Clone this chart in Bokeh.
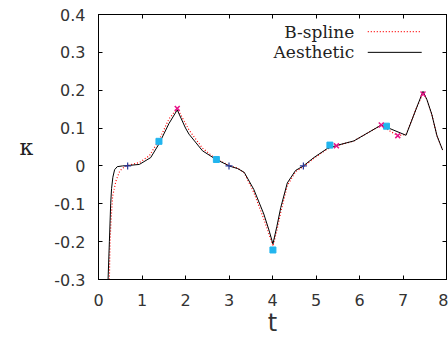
from bokeh.plotting import figure
from bokeh.models import Range1d, LinearAxis, FixedTicker, Label
from bokeh.embed import file_html
from bokeh.resources import INLINE

# ---- data ----
aes_t = [0.22, 0.25, 0.28, 0.30, 0.33, 0.37, 0.43, 0.55, 0.67, 0.94, 1.20, 1.39, 1.62, 1.81,
         2.00, 2.08, 2.39, 2.69, 2.92, 3.00, 3.20, 3.35, 3.57, 3.80, 3.92, 4.01, 4.10, 4.19,
         4.34, 4.53, 4.71, 4.95, 5.26, 5.47, 5.87, 6.20, 6.50, 7.07, 7.30, 7.46, 7.55, 7.66,
         7.78, 7.91]
aes_k = [-0.30, -0.20, -0.10, -0.06, -0.03, -0.01, -0.002, 0.000, 0.001, 0.004, 0.022, 0.058,
         0.112, 0.148, 0.100, 0.084, 0.040, 0.018, 0.005, 0.000, -0.007, -0.017, -0.062, -0.127,
         -0.170, -0.206, -0.160, -0.110, -0.045, -0.012, 0.000, 0.022, 0.046, 0.054, 0.066,
         0.088, 0.108, 0.081, 0.150, 0.197, 0.175, 0.137, 0.080, 0.042]

bs_t = [0.25, 0.265, 0.29, 0.325, 0.40, 0.49, 0.59, 0.70, 0.94, 1.17, 1.39, 1.62, 1.81, 2.00,
        2.08, 2.39, 2.69, 2.92, 3.00, 3.20, 3.35, 3.57, 3.80, 3.92, 4.01, 4.10, 4.19, 4.34,
        4.53, 4.71, 4.95, 5.26, 5.47, 5.87, 6.20, 6.50, 6.70, 6.88, 7.07, 7.30, 7.46, 7.55,
        7.66, 7.78, 7.91]
bs_k = [-0.30, -0.20, -0.14, -0.08, -0.04, -0.013, -0.003, 0.002, 0.009, 0.027, 0.068, 0.124,
        0.152, 0.112, 0.095, 0.047, 0.019, 0.006, 0.001, -0.006, -0.018, -0.070, -0.140,
        -0.180, -0.212, -0.170, -0.122, -0.052, -0.015, -0.002, 0.020, 0.045, 0.053, 0.066,
        0.088, 0.108, 0.092, 0.080, 0.083, 0.150, 0.193, 0.175, 0.137, 0.080, 0.042]

x_pts_t = [1.81, 5.47, 6.50, 6.88, 7.46]
x_pts_k = [0.152, 0.053, 0.108, 0.080, 0.190]
sq_pts_t = [1.39, 2.71, 4.01, 5.32, 6.62]
sq_pts_k = [0.065, 0.017, -0.222, 0.055, 0.105]
plus_pts_t = [0.67, 3.00, 4.71]
plus_pts_k = [0.0, 0.0, 0.0]

xticks = [0, 1, 2, 3, 4, 5, 6, 7, 8]
xtick_labels = ["0", "1", "2", "3", "4", "5", "6", "7", "8"]
yticks = [-0.3, -0.2, -0.1, 0, 0.1, 0.2, 0.3, 0.4]
ytick_labels = ["-0.3", "-0.2", "-0.1", "0", "0.1", "0.2", "0.3", "0.4"]
legend_names = ["B-spline", "Aesthetic"]
x_title = "t"
y_title = "κ"

# ---- figure ----
p = figure(width=448, height=341, x_range=Range1d(0, 8), y_range=Range1d(-0.3, 0.4),
           output_backend="svg", toolbar_location=None,
           min_border_left=98, min_border_right=2, min_border_top=14, min_border_bottom=62)
p.grid.visible = False
p.outline_line_color = "black"
p.background_fill_color = "white"
p.border_fill_color = "white"

tick_font = "DejaVu Sans"
for ax, ticks, labels, standoff in ((p.xaxis[0], xticks, xtick_labels, 14),
                                    (p.yaxis[0], yticks, ytick_labels, 13)):
    ax.ticker = FixedTicker(ticks=ticks)
    ax.major_label_overrides = {t: l for t, l in zip(ticks, labels)}
    ax.major_tick_in = 4
    ax.major_tick_out = 0
    ax.minor_tick_line_color = None
    ax.axis_line_color = "black"
    ax.major_tick_line_color = "black"
    ax.major_label_text_font = tick_font
    ax.major_label_text_font_size = "16px"
    ax.major_label_text_color = "#333333"
    ax.major_label_standoff = standoff

xa = p.xaxis[0]
xa.axis_label = x_title
xa.axis_label_text_font = "DejaVu Sans"
xa.axis_label_text_font_style = "normal"
xa.axis_label_text_font_size = "24px"
xa.axis_label_text_color = "#333333"
xa.axis_label_standoff = 0

ya = p.yaxis[0]
ya.axis_label = y_title
ya.axis_label_text_font = "DejaVu Serif"
ya.axis_label_text_font_style = "normal"
ya.axis_label_text_font_size = "22px"
ya.axis_label_text_color = "#222222"
ya.axis_label_standoff = 18
if "axis_label_orientation" in ya.properties():
    ya.axis_label_orientation = "horizontal"

for loc, ticks in (("right", yticks), ("above", xticks)):
    ax = LinearAxis(ticker=FixedTicker(ticks=ticks))
    ax.major_tick_in = 4
    ax.major_tick_out = 0
    ax.minor_tick_line_color = None
    ax.axis_line_color = "black"
    ax.major_label_text_font_size = "0px"
    ax.major_label_standoff = 0
    p.add_layout(ax, loc)

# curves
p.line(bs_t, bs_k, line_color="red", line_dash="1 2", line_width=1.2)
p.line(aes_t, aes_k, line_color="black", line_width=1)

# markers
p.scatter(sq_pts_t, sq_pts_k, marker="square", size=6, fill_color="#22b5ee", line_color="#22b5ee")
p.scatter(x_pts_t, x_pts_k, marker="x", size=7, line_color="#e8168a", line_width=1.5)
p.scatter(plus_pts_t, plus_pts_k, marker="cross", size=7, line_color="#2a3a9a", line_width=1.2)

# legend (text left, sample right, gnuplot style)
leg_text_x = 5.88
leg_y = [0.355, 0.300]
leg_x0, leg_x1 = 6.19, 7.43
for name, yy in zip(legend_names, leg_y):
    p.add_layout(Label(x=leg_text_x, y=yy, text=name, text_align="right", text_baseline="middle",
                       text_font="DejaVu Serif", text_font_size="17px", text_color="#222222"))
p.segment(x0=[leg_x0], y0=[leg_y[0]], x1=[leg_x1], y1=[leg_y[0]], line_color="red",
          line_dash="1 2", line_width=1.2)
p.segment(x0=[leg_x0], y0=[leg_y[1]], x1=[leg_x1], y1=[leg_y[1]], line_color="black", line_width=1)

open("out.html", "w").write(file_html(p, INLINE))
